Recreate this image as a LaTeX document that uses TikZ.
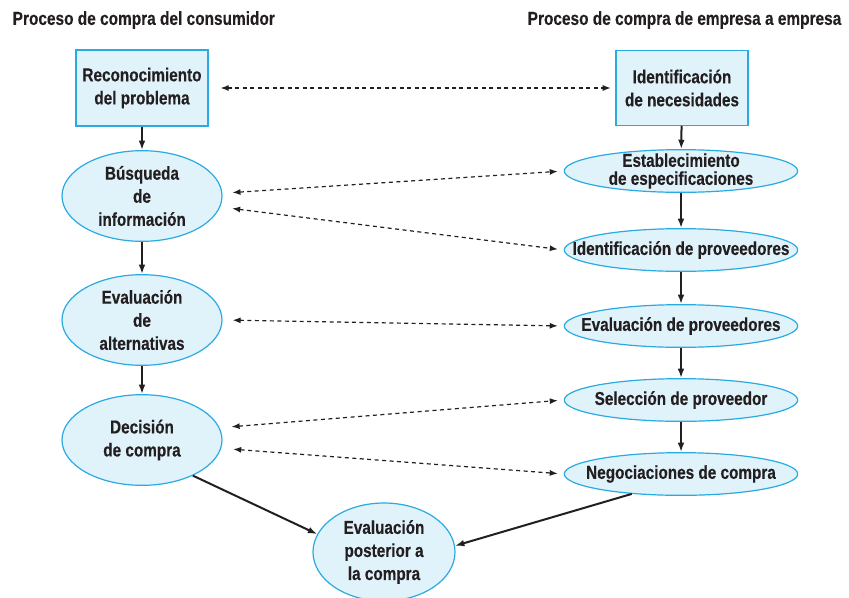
\documentclass[tikz,border=0pt]{standalone}
\usepackage{fontspec}
\setmainfont[FakeStretch=0.82,BoldFeatures={FakeBold=0.3}]{Liberation Sans}
\usetikzlibrary{arrows.meta,shapes.geometric}
\definecolor{fillblue}{HTML}{E0F2FA}
\definecolor{lineblue}{HTML}{29ABE2}
\definecolor{inkgray}{HTML}{231F20}

\begin{document}
\begin{tikzpicture}[x=0.75pt,y=0.75pt,yscale=-1,xscale=1,
  font=\bfseries\fontsize{14}{17.3}\selectfont, text=inkgray,
  stagebox/.style={draw=lineblue, fill=fillblue, line width=0.9pt, align=center, minimum width=99pt, minimum height=57pt, inner sep=0pt},
  stageell/.style={ellipse, draw=lineblue, fill=fillblue, line width=0.9pt, align=center, inner sep=-40pt},
  leftell/.style={stageell, minimum width=120pt, minimum height=68pt},
  rightell/.style={stageell, minimum width=175pt, minimum height=32pt},
  flow/.style={-{Latex[length=7pt,width=5pt]}, line width=1.5pt, draw=inkgray},
  link/.style={{Latex[length=6pt,width=4.5pt]}-{Latex[length=6pt,width=4.5pt]}, dash pattern=on 3pt off 2.6pt, line width=0.9pt, draw=inkgray}]
\useasboundingbox (0,0) rectangle (849,597);

% Titles
\node [anchor=west, font=\bfseries\fontsize{14.1}{16}\selectfont] (titlecons) at (8,20) {Proceso de compra del consumidor};
\node [anchor=west, font=\bfseries\fontsize{14.1}{16}\selectfont] (titleemp) at (523,20) {Proceso de compra de empresa a empresa};

% Consumer process
\node [stagebox] (rec) at (142,88) {Reconocimiento\\del problema};
\node [leftell] (bus) at (142,196) {Búsqueda\\de\\información};
\node [leftell] (alt) at (142,320) {Evaluación\\de\\alternativas};
\node [leftell] (dec) at (142,440) {Decisión\\de compra};
\node [stageell, minimum width=106.5pt, minimum height=73.5pt] (post) at (384,552) {Evaluación\\posterior a\\la compra};

% Business process
\node [stagebox, minimum height=56pt] (ide) at (682,88) {Identificación\\de necesidades};
\node [rightell, font=\bfseries\fontsize{14}{13.5}\selectfont] (esp) at (681,171) {Establecimiento\\de especificaciones};
\node [rightell] (pro) at (681,250) {Identificación de proveedores};
\node [rightell] (evp) at (681,326) {Evaluación de proveedores};
\node [rightell] (sel) at (681,400) {Selección de proveedor};
\node [rightell] (neg) at (681,474) {Negociaciones de compra};

% Solid flow
\draw [flow] (rec) -- (bus);
\draw [flow] (bus) -- (alt);
\draw [flow] (alt) -- (dec);
\draw [flow] (dec.325) -- (post.165);
\draw [flow] (ide) -- (esp);
\draw [flow] (esp) -- (pro);
\draw [flow] (pro) -- (evp);
\draw [flow] (evp) -- (sel);
\draw [flow] (sel) -- (neg);
\draw [flow] (neg.202) -- (post.5);

% Dashed correspondences
\draw [link, shorten <=9pt, shorten >=3.5pt] (rec.east) -- (ide.west);
\draw [link, shorten <=7.5pt, shorten >=4.5pt] (bus.2) -- (esp.west);
\draw [link, shorten <=9pt, shorten >=4.5pt] (bus.352) -- (pro.west);
\draw [link, shorten <=7.5pt, shorten >=4.5pt] (alt.east) -- (evp.west);
\draw [link, shorten <=9pt, shorten >=4.5pt] (dec.9) -- (sel.west);
\draw [link, shorten <=9pt, shorten >=4.5pt] (dec.354) -- (neg.west);
\end{tikzpicture}
\end{document}
